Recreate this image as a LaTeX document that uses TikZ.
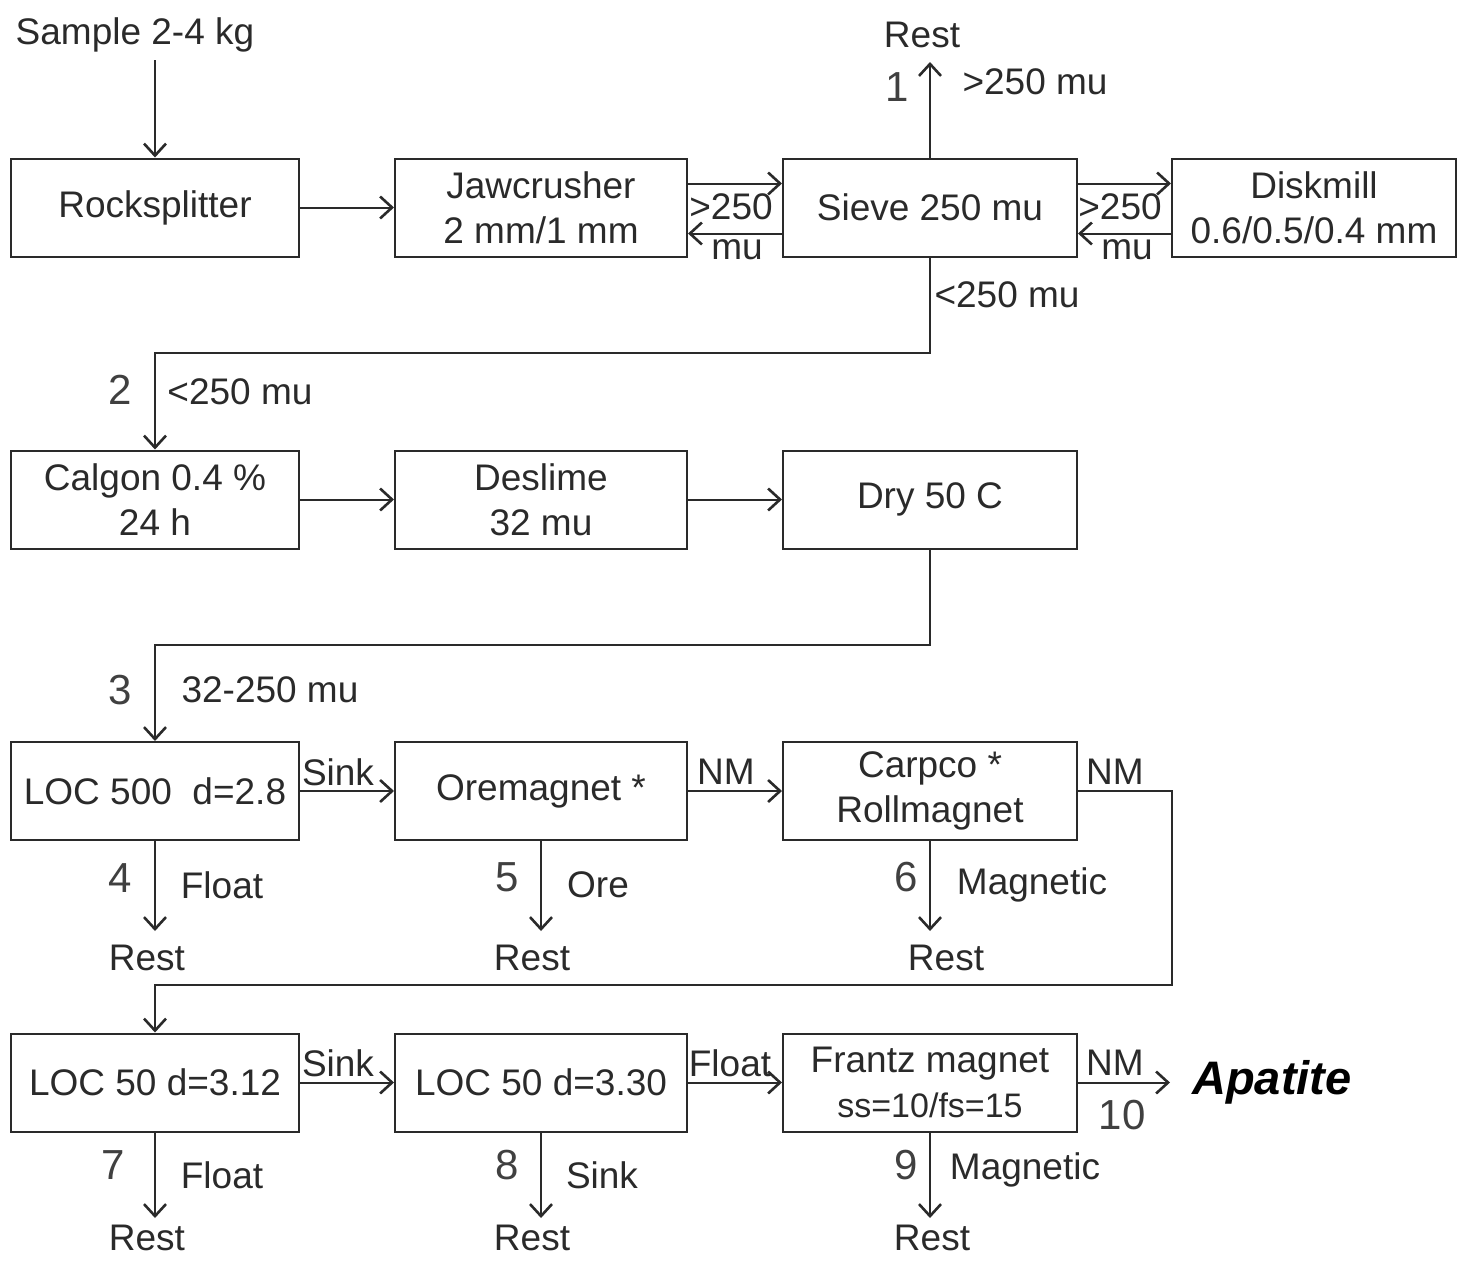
\documentclass[tikz,border=0pt]{standalone}
\usepackage{fontspec}
\setmainfont{Liberation Sans}
\usetikzlibrary{arrows.meta}
\definecolor{ink}{HTML}{2A2A2A}
\begin{document}
\begin{tikzpicture}[x=1pt,y=-1pt,
  every node/.style={text=ink, font=\fontsize{37}{45}\selectfont},
  box/.style={draw=ink, line width=2pt, minimum height=98pt, inner sep=0pt, align=center},
  lbl/.style={inner sep=0pt},
  num/.style={inner sep=0pt, font=\fontsize{42}{48}\selectfont, text=black!75},
  arr/.style={draw=ink, line width=2pt, -{Straight Barb[length=12pt,width=22pt,line width=2.6pt]}},
  ln/.style={draw=ink, line width=2pt}]
\useasboundingbox (0,0) rectangle (1458,1261);
% row 1
\node[box, minimum width=288pt] (rock) at (155,207.5) {Rocksplitter};
\node[box, minimum width=292pt] (jaw) at (541,207.5) {Jawcrusher\\2 mm/1 mm};
\node[box, minimum width=294pt] (sieve) at (930,207.5) {Sieve 250 mu};
\node[box, minimum width=284pt] (disk) at (1314,207.5) {Diskmill\\0.6/0.5/0.4 mm};
% row 2
\node[box, minimum width=288pt] (calgon) at (155,499.5) {Calgon 0.4 \%\\24 h};
\node[box, minimum width=292pt] (deslime) at (541,499.5) {Deslime\\32 mu};
\node[box, minimum width=294pt] (dry) at (930,499.5) {Dry 50 C};
% row 3
\node[box, minimum width=288pt] (loca) at (155,791) {LOC 500\ \ d=2.8};
\node[box, minimum width=292pt] (ore) at (541,791) {Oremagnet *};
\node[box, minimum width=294pt] (carp) at (930,791) {Carpco *\\Rollmagnet};
% row 4
\node[box, minimum width=288pt] (locb) at (155,1082.5) {LOC 50 d=3.12};
\node[box, minimum width=292pt] (locc) at (541,1082.5) {LOC 50 d=3.30};
\node[box, minimum width=294pt] (frantz) at (930,1082.5) {Frantz magnet\\{\fontsize{34}{40}\selectfont ss=10/fs=15}};

% top
\node[lbl] (sample) at (135,35) {Sample 2-4 kg};
\draw[arr] (155,60) coordinate (s0) -- (rock.north);
\node[lbl] (rest1) at (922,35) {Rest};
\coordinate (r1) at (930,62);
\draw[arr] (sieve.north) -- (r1);
\node[num] (n1) at (897,87) {1};
\node[lbl] (t1) at (1035,82) {>250 mu};

\draw[arr] (rock) -- (jaw);
\draw[arr] ([yshift=24pt]jaw.east) -- ([yshift=24pt]sieve.west);
\draw[arr] ([yshift=-26pt]sieve.west) -- ([yshift=-26pt]jaw.east);
\node[lbl] at (731,207) {>250};
\node[lbl] at (737,250) {mu};
\draw[arr] ([yshift=24pt]sieve.east) -- ([yshift=24pt]disk.west);
\draw[arr] ([yshift=-26pt]disk.west) -- ([yshift=-26pt]sieve.east);
\node[lbl] at (1120,207) {>250};
\node[lbl] at (1127,250) {mu};

% sieve -> calgon
\coordinate (j1) at (155,353);
\draw[arr] (sieve.south) -- (sieve.south |- j1) -| (calgon.north);
\node[lbl] at (1007,295) {<250 mu};
\node[num] at (120,390) {2};
\node[lbl] at (240,392) {<250 mu};

\draw[arr] (calgon) -- (deslime);
\draw[arr] (deslime) -- (dry);

% dry -> loc500
\coordinate (j2) at (155,645);
\draw[arr] (dry.south) -- (dry.south |- j2) -| (loca.north);
\node[num] at (120,690) {3};
\node[lbl] at (270,690) {32-250 mu};

\draw[arr] (loca) -- (ore);
\node[lbl] at (338,772) {Sink};
\draw[arr] (ore) -- (carp);
\node[lbl] at (726,772) {NM};
\coordinate (j3) at (1172,985);
\draw[arr] (carp.east) -| (j3) -| (locb.north);
\node[lbl] at (1115,772) {NM};

% row 3 outputs
\node[lbl] (r4) at (147,958) {Rest};
\draw[arr] (loca.south) -- (155,931);
\node[num] at (120,878) {4};
\node[lbl] at (222,885) {Float};
\node[lbl] (r5) at (532,958) {Rest};
\draw[arr] (ore.south) -- (541,931);
\node[num] at (507,877) {5};
\node[lbl] at (598,885) {Ore};
\node[lbl] (r6) at (946,958) {Rest};
\draw[arr] (carp.south) -- (930,931);
\node[num] at (906,877) {6};
\node[lbl] at (1032,885) {Magnetic};

% row 4
\draw[arr] (locb) -- (locc);
\node[lbl] at (338,1063) {Sink};
\draw[arr] (locc) -- (frantz);
\node[lbl] at (730,1063) {Float};
\node[lbl, anchor=west, font=\fontsize{47}{52}\selectfont\bfseries\itshape, text=black] (apa) at (1192,1082) {Apatite};
\draw[arr] (frantz.east) -- (1170,1082.5);
\node[lbl] at (1115,1063) {NM};
\node[num] at (1122,1115) {10};

\node[lbl] (r7) at (147,1238) {Rest};
\draw[arr] (locb.south) -- (155,1218);
\node[num] at (113,1165) {7};
\node[lbl] at (222,1175) {Float};
\node[lbl] (r8) at (532,1238) {Rest};
\draw[arr] (locc.south) -- (541,1218);
\node[num] at (507,1165) {8};
\node[lbl] at (602,1175) {Sink};
\node[lbl] (r9) at (932,1238) {Rest};
\draw[arr] (frantz.south) -- (930,1218);
\node[num] at (906,1165) {9};
\node[lbl] at (1025,1170) {Magnetic};
\end{tikzpicture}
\end{document}
